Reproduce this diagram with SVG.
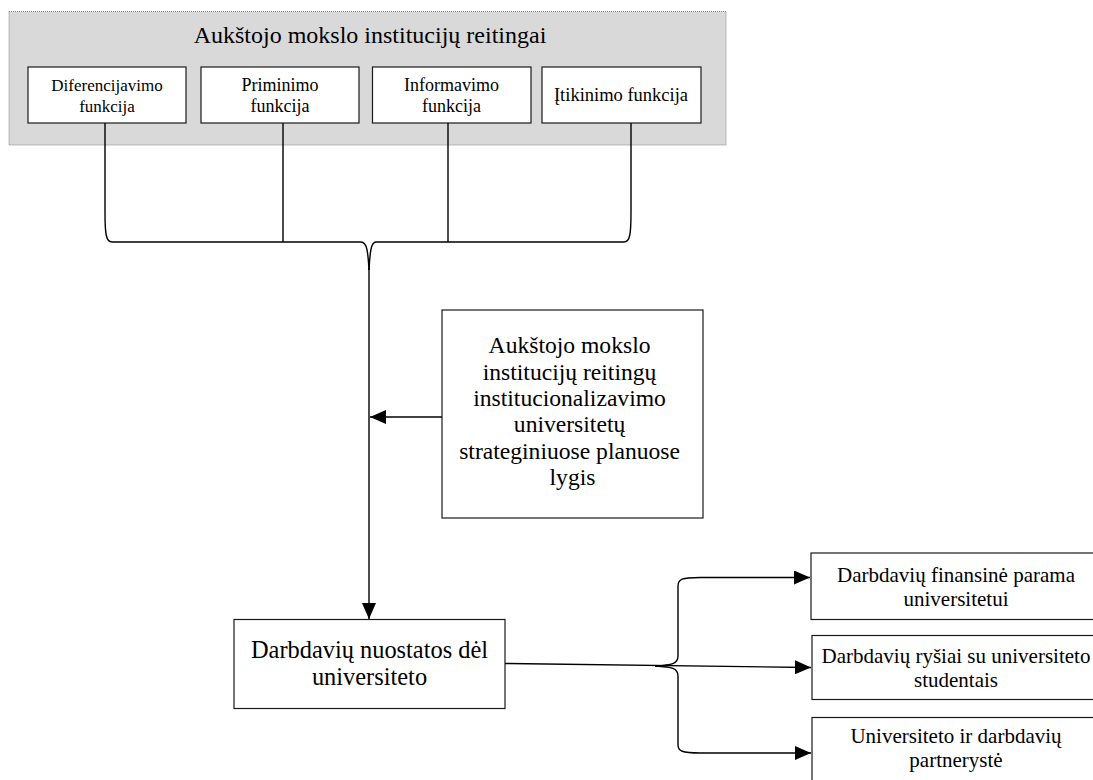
<svg xmlns="http://www.w3.org/2000/svg" width="1093" height="780" viewBox="0 0 1093 780">
<style>
.box{fill:#fff;stroke:#1a1a1a;stroke-width:1.2}
.t{font-family:"Liberation Serif","Times New Roman",serif;fill:#000;text-anchor:middle}
.ln{fill:none;stroke:#000;stroke-width:1.4}
</style>
<defs>
<marker id="ah" viewBox="0 0 16 14" refX="16" refY="7" markerWidth="16" markerHeight="14" markerUnits="userSpaceOnUse" orient="auto">
<path d="M0,0 L16,7 L0,14 Z" fill="#000"/>
</marker>
</defs>
<rect width="1093" height="780" fill="#fff"/>
<g id="ratings">
<rect x="9" y="11.5" width="717" height="133.5" fill="#d9d9d9" stroke="#808080" stroke-width="1" stroke-dasharray="1,1"/>
<text class="t" x="370" y="43" font-size="24">Aukštojo mokslo institucijų reitingai</text>
</g>
<g id="f1">
<rect class="box" x="28" y="67" width="158" height="56"/>
<text class="t" x="107" y="91" font-size="17">Diferencijavimo</text>
<text class="t" x="107" y="112" font-size="17">funkcija</text>
</g>
<g id="f2">
<rect class="box" x="201" y="67" width="158" height="56"/>
<text class="t" x="280" y="91" font-size="18">Priminimo</text>
<text class="t" x="280" y="112" font-size="18">funkcija</text>
</g>
<g id="f3">
<rect class="box" x="372.5" y="67" width="158.5" height="56"/>
<text class="t" x="451.5" y="91" font-size="18">Informavimo</text>
<text class="t" x="451.5" y="112" font-size="18">funkcija</text>
</g>
<g id="f4">
<rect class="box" x="542" y="67" width="159" height="56"/>
<text class="t" x="621" y="101" font-size="18.5">Įtikinimo funkcija</text>
</g>
<g id="level">
<rect class="box" x="442" y="310" width="261" height="208"/>
<text class="t" font-size="23.6">
<tspan x="572.5" y="353">Aukštojo mokslo</tspan>
<tspan x="572.5" y="379.5">institucijų reitingų</tspan>
<tspan x="572.5" y="406">institucionalizavimo</tspan>
<tspan x="572.5" y="432">universitetų</tspan>
<tspan x="572.5" y="458.5">strateginiuose planuose</tspan>
<tspan x="572.5" y="485">lygis</tspan>
</text>
</g>
<g id="attitudes">
<rect class="box" x="234" y="619.5" width="271" height="89"/>
<text class="t" x="369.5" y="658" font-size="24.4">Darbdavių nuostatos dėl</text>
<text class="t" x="369.5" y="685" font-size="24.4">universiteto</text>
</g>
<g id="r1">
<rect class="box" x="811" y="553" width="300" height="66.5"/>
<text class="t" x="956" y="582" font-size="21">Darbdavių finansinė parama</text>
<text class="t" x="956" y="605.5" font-size="21">universitetui</text>
</g>
<g id="r2">
<rect class="box" x="812" y="635.5" width="300" height="64"/>
<text class="t" x="956" y="662.5" font-size="21">Darbdavių ryšiai su universiteto</text>
<text class="t" x="956" y="686.5" font-size="21">studentais</text>
</g>
<g id="r3">
<rect class="box" x="812" y="717.5" width="300" height="80"/>
<text class="t" x="956" y="743" font-size="21">Universiteto ir darbdavių</text>
<text class="t" x="956" y="767" font-size="21">partnerystė</text>
</g>
<g id="connectors">
<path class="ln" d="M105,123 L105,212 C105,234 106,242 112,242 L361,242 C367,242 368,252 369,270"/>
<path class="ln" d="M631,123 L631,212 C631,234 630,242 624,242 L376,242 C371,242 370,252 369,270"/>
<line class="ln" x1="283" y1="123" x2="283" y2="242"/>
<line class="ln" x1="448" y1="123" x2="448" y2="242"/>
<line class="ln" x1="369" y1="268" x2="369" y2="619" marker-end="url(#ah)"/>
<line class="ln" x1="442" y1="417" x2="370" y2="417" marker-end="url(#ah)"/>
<line class="ln" x1="505" y1="663.5" x2="811" y2="667.5" marker-end="url(#ah)"/>
<path class="ln" d="M655,666 C672,665 678,664 678,656 L678,586 C678,579 682,577.5 700,577.5 L810,577.5" marker-end="url(#ah)"/>
<path class="ln" d="M655,666 C672,667 678,668 678,676 L678,745 C678,751 682,753 700,753 L811,753" marker-end="url(#ah)"/>
</g>
</svg>
